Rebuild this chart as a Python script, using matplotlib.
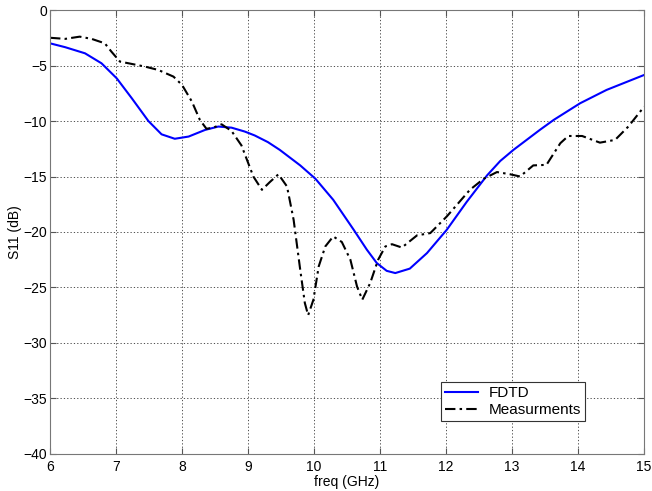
import numpy as np
import matplotlib.pyplot as plt

plt.rcParams['font.family'] = ['Liberation Sans', 'DejaVu Sans']

# FDTD simulation, S11 in dB
fdtd_f = [6.0, 6.23, 6.53, 6.78, 7.01, 7.24, 7.49, 7.69, 7.89, 8.1, 8.35,
          8.55, 8.75, 8.95, 9.1, 9.3, 9.48, 9.79, 10.02, 10.29, 10.6, 10.8,
          10.95, 11.1, 11.23, 11.45, 11.71, 12.01, 12.31, 12.62, 12.82,
          13.02, 13.22, 13.42, 13.63, 14.03, 14.43, 15.0]
fdtd_s11 = [-3.0, -3.35, -3.9, -4.8, -6.15, -7.96, -10.0, -11.2, -11.6, -11.4,
            -10.8, -10.5, -10.6, -10.95, -11.3, -11.9, -12.6, -14.0, -15.2,
            -17.1, -19.8, -21.6, -22.8, -23.5, -23.7, -23.3, -21.9, -19.8,
            -17.3, -14.9, -13.6, -12.6, -11.7, -10.8, -9.9, -8.4, -7.2, -5.85]

# measured S11 in dB
meas_f = [6.0, 6.23, 6.45, 6.63, 6.83, 6.93, 7.06, 7.19, 7.44, 7.64, 7.87,
          8.0, 8.15, 8.27, 8.37, 8.47, 8.6, 8.75, 8.9, 9.08, 9.21, 9.33,
          9.46, 9.59, 9.69, 9.79, 9.86, 9.91, 9.99, 10.07, 10.17, 10.29,
          10.42, 10.55, 10.65, 10.73, 10.85, 10.97, 11.08, 11.18, 11.33,
          11.56, 11.76, 12.01, 12.36, 12.57, 12.77, 12.97, 13.12, 13.32,
          13.52, 13.73, 13.85, 14.06, 14.33, 14.56, 14.76, 15.0]
meas_s11 = [-2.5, -2.6, -2.4, -2.6, -3.0, -3.75, -4.65, -4.8, -5.1, -5.4,
            -6.0, -6.75, -8.26, -9.9, -10.7, -10.6, -10.3, -10.9, -12.2,
            -15.0, -16.2, -15.5, -14.8, -15.9, -18.9, -23.4, -26.4, -27.5,
            -26.1, -23.1, -21.3, -20.4, -20.9, -22.5, -24.9, -26.1, -24.6,
            -22.5, -21.3, -21.1, -21.4, -20.3, -20.1, -18.6, -16.2, -15.2,
            -14.6, -14.8, -15.0, -14.0, -13.95, -12.0, -11.35, -11.35,
            -11.95, -11.7, -10.5, -8.7]

fig = plt.figure(figsize=(6.52, 4.91), dpi=100)
ax = fig.add_axes([0.0767, 0.0754, 0.9113, 0.9042])

ax.plot(fdtd_f, fdtd_s11, color='#0000ff', lw=1.5, label='FDTD')
ax.plot(meas_f, meas_s11, color='black', lw=1.5,
        linestyle=(0, (5, 2, 1.2, 2)), label='Measurments')

ax.set_xlim(6, 15)
ax.set_ylim(-40, 0)
ax.set_xticks(np.arange(6, 16, 1))
ax.set_yticks(np.arange(-40, 1, 5))
ax.grid(True, color='#333333', linestyle=(0, (1.5, 2.5)), linewidth=0.6)
ax.tick_params(direction='in', top=True, right=True, labelsize=10,
               length=4, color='#555555')
ax.tick_params(axis='x', pad=4)
ax.tick_params(axis='y', pad=2)
for sp in ax.spines.values():
    sp.set_color('#777777')

ax.set_xlabel('freq (GHz)', fontsize=10, labelpad=1)
ax.set_ylabel('S11 (dB)', fontsize=10, labelpad=1)

leg = ax.legend(loc='lower left', bbox_to_anchor=(0.658, 0.074),
                fancybox=False, framealpha=1, edgecolor='#333333',
                fontsize=11, handlelength=2.2, borderpad=0.25,
                labelspacing=0.2, handletextpad=0.7, borderaxespad=0)
leg.get_frame().set_linewidth(0.8)

fig.savefig('out.png', dpi=100)
